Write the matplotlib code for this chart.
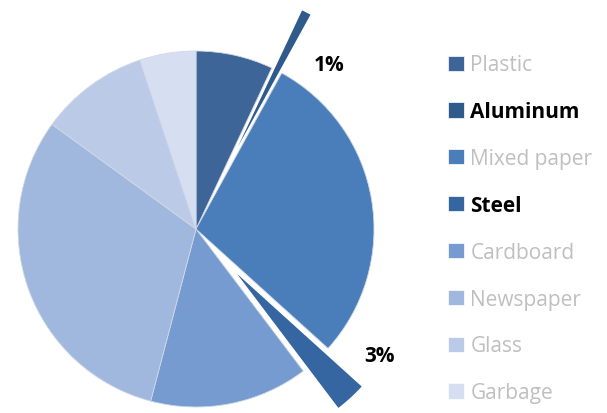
import matplotlib.pyplot as plt
import numpy as np

# recycling mix (percent)
materials = ['Plastic', 'Aluminum', 'Mixed paper', 'Steel', 'Cardboard',
             'Newspaper', 'Glass', 'Garbage']
shares = [7, 1, 28.7, 3, 14.4, 30.9, 9.9, 5.1]
shown = ['', '1%', '', '3%', '', '', '', '']

colors = ['#3E6597', '#2F5A8C', '#4A7EBB', '#3566A2', '#759BD0',
          '#A0B7DE', '#BBCBE7', '#D6DFF2']
explode = [0, 0.37, 0, 0.29, 0, 0, 0, 0]
highlight = [False, True, False, True, False, False, False, False]

plt.rcParams['font.family'] = ['Open Sans', 'DejaVu Sans']

fig = plt.figure(figsize=(6.07, 4.14), dpi=100)
ax = fig.add_axes([0, 0, 1, 1])
R = 178.0

wedges, _ = ax.pie(shares, colors=colors, explode=explode, startangle=90,
                   counterclock=False, radius=1,
                   wedgeprops=dict(edgecolor='#D0D8E6', linewidth=0.6))
ax.set_xlim(-196 / R, 411 / R)
ax.set_ylim(-184 / R, 230 / R)
ax.set_aspect('auto')
ax.axis('off')

# where the two small labels sit, relative to their slice
shift = {1: (-12, 1.19), 3: (13, 1.25)}
for i, w in enumerate(wedges):
    if highlight[i]:
        w.set_edgecolor('white')
        w.set_linewidth(1.2)
        w.set_zorder(5)
    if shown[i]:
        da, r = shift[i]
        mid = np.deg2rad((w.theta1 + w.theta2) / 2 + da)
        ax.text(r * np.cos(mid), r * np.sin(mid), shown[i], ha='center',
                va='center', fontsize=15, fontweight='bold', color='black')

leg = ax.legend(wedges, materials, loc='upper left',
                bbox_to_anchor=(438 / 607, 1 - 45 / 414),
                bbox_transform=fig.transFigure, frameon=False,
                fontsize=15, handlelength=0.74, handleheight=0.74,
                handletextpad=0.32, labelspacing=1.24, borderpad=0)
for i, t in enumerate(leg.get_texts()):
    if highlight[i]:
        t.set_color('black')
        t.set_fontweight('bold')
    else:
        t.set_color('#BFBFBF')
for h in leg.legend_handles:
    h.set_edgecolor('white')
    h.set_linewidth(0.5)

fig.savefig('out.png', dpi=100)
